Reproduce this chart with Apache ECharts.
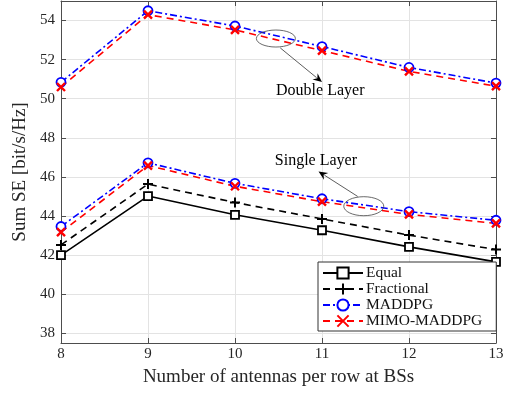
<!DOCTYPE html>
<html><head><meta charset="utf-8">
<script src="https://cdn.jsdelivr.net/npm/echarts@6/dist/echarts.min.js"></script>
<style>html,body{margin:0;padding:0;background:#fff}#c{width:508px;height:396px}</style>
</head><body><div id="c"></div>
<script>
const antennas = [8, 9, 10, 11, 12, 13];
const yTicks = [38, 40, 42, 44, 46, 48, 50, 52, 54];
// Single layer
const equalSL = [42.0, 45.02, 44.06, 43.27, 42.42, 41.65];
const fracSL = [42.52, 45.63, 44.69, 43.85, 43.02, 42.28];
const maddpgSL = [43.46, 46.72, 45.67, 44.88, 44.22, 43.78];
const mimoSL = [43.17, 46.58, 45.52, 44.73, 44.08, 43.62];
// Double layer
const maddpgDL = [50.84, 54.5, 53.72, 52.67, 51.6, 50.8];
const mimoDL = [50.6, 54.3, 53.52, 52.46, 51.4, 50.64];

const font = '"Liberation Serif", "Times New Roman", serif';
const axisCol = '#4d4d4d';
const txtCol = '#262626';
const plusPath = 'path://M5,0L5,10M0,5L10,5';
const xPath = 'path://M0,0L10,10M10,0L0,10';

function pairs(v){ return antennas.map((a,i)=>[a, v[i]]); }

const chart = echarts.init(document.getElementById('c'), null, {renderer:'canvas'});

function mk(name, data, color, symbol, size, dash, extra){
  return Object.assign({
    name, type:'line', data:pairs(data), xAxisIndex:0, yAxisIndex:0,
    symbol, symbolSize:size, showAllSymbol:true,
    lineStyle:{color, width:1.6, type:dash},
    itemStyle:{color:'#fff', borderColor:color, borderWidth:1.8},
    emphasis:{disabled:true}, animation:false, z:3
  }, extra||{});
}

const series = [
  mk('Equal', equalSL, '#000', 'rect', 8, 'solid'),
  mk('Fractional', fracSL, '#000', plusPath, 10, [7,5], {itemStyle:{color:'#000', borderColor:'#000', borderWidth:2}}),
  mk('MADDPG', maddpgSL, '#0000ff', 'circle', 9, [7,3,2,3]),
  mk('MIMO-MADDPG', mimoSL, '#ff0000', xPath, 8, [7,5], {itemStyle:{color:'#ff0000', borderColor:'#ff0000', borderWidth:2.4}}),
  mk('MADDPG', maddpgDL, '#0000ff', 'circle', 9, [7,3,2,3]),
  mk('MIMO-MADDPG', mimoDL, '#ff0000', xPath, 8, [7,5], {itemStyle:{color:'#ff0000', borderColor:'#ff0000', borderWidth:2.4}})
];

const yBase = {
  type:'value', min:37.5, max:55,
  axisLine:{show:true, lineStyle:{color:axisCol, width:1}},
  axisTick:{show:true, inside:true, length:5, lineStyle:{color:axisCol}, customValues:yTicks},
  axisLabel:{show:true, customValues:yTicks, color:txtCol, fontFamily:font, fontSize:15, margin:6},
  splitLine:{show:true, lineStyle:{color:'#e3e3e3', width:1}}
};

chart.setOption({
  animation:false,
  grid:{left:61, right:12, top:1, bottom:53, containLabel:false},
  xAxis:[
    {type:'value', min:8, max:13, interval:1, name:'Number of antennas per row at BSs', nameLocation:'middle', nameGap:25,
     nameTextStyle:{fontFamily:font, fontSize:19, color:txtCol},
     axisLine:{show:true, onZero:false, lineStyle:{color:axisCol}},
     axisTick:{show:true, inside:true, length:5, lineStyle:{color:axisCol}},
     axisLabel:{color:txtCol, fontFamily:font, fontSize:15, margin:4},
     splitLine:{show:true, lineStyle:{color:'#e3e3e3'}}},
    {type:'value', min:8, max:13, interval:1, position:'top',
     axisLine:{show:true, onZero:false, lineStyle:{color:axisCol}},
     axisTick:{show:true, inside:true, length:5, lineStyle:{color:axisCol}},
     axisLabel:{show:false}, splitLine:{show:false}}
  ],
  yAxis:[
    Object.assign({}, yBase, {name:'Sum SE [bit/s/Hz]', nameLocation:'middle', nameGap:28,
      nameTextStyle:{fontFamily:font, fontSize:19, color:txtCol}}),
    Object.assign({}, yBase, {position:'right', axisLabel:{show:false, customValues:yTicks}, splitLine:{show:false}})
  ],
  legend:{
    show:true, orient:'vertical', left:318, top:262, width:178,
    data:['Equal','Fractional','MADDPG','MIMO-MADDPG'],
    backgroundColor:'#fff', borderColor:'#333', borderWidth:1,
    padding:[3,14,2,4], itemGap:0, itemWidth:40, itemHeight:14,
    textStyle:{fontFamily:font, fontSize:15.5, color:'#111', padding:[0,0,0,-2]}
  },
  series
});

// annotations placed from data coordinates
function P(x,y){ return chart.convertToPixel({xAxisIndex:0, yAxisIndex:0},[x,y]); }
function arrow(from, to){
  const dx=to[0]-from[0], dy=to[1]-from[1], L=Math.hypot(dx,dy), ux=dx/L, uy=dy/L;
  const hl=9, hw=4;
  const bx=to[0]-ux*hl, by=to[1]-uy*hl;
  return [
    {type:'line', shape:{x1:from[0], y1:from[1], x2:bx+ux*2, y2:by+uy*2}, style:{stroke:'#333', lineWidth:0.8}, z:10},
    {type:'polygon', shape:{points:[[to[0],to[1]],[bx-uy*hw,by+ux*hw],[bx+ux*3,by+uy*3],[bx+uy*hw,by-ux*hw]]}, style:{fill:'#000'}, z:10}
  ];
}
const eD = P(10.47, 53.08), eS = P(11.48, 44.5);
const aD1 = P(10.52, 52.6), aD2 = P(11.0, 50.85);
const aS1 = P(11.41, 45.0), aS2 = P(10.96, 46.28);
const tD = P(10.98, 50.42), tS = P(10.93, 46.8);
chart.setOption({graphic:[
  {type:'ellipse', shape:{cx:eD[0], cy:eD[1], rx:19.5, ry:8.5}, style:{fill:'none', stroke:'#444', lineWidth:0.8}, z:10},
  {type:'ellipse', shape:{cx:eS[0], cy:eS[1], rx:20, ry:9.5}, style:{fill:'none', stroke:'#444', lineWidth:0.8}, z:10},
  ...arrow(aD1, aD2), ...arrow(aS1, aS2),
  {type:'text', x:tD[0], y:tD[1], style:{text:'Double Layer', fontFamily:font, fontSize:16, fill:'#000', align:'center', verticalAlign:'middle'}, z:10},
  {type:'text', x:tS[0], y:tS[1], style:{text:'Single Layer', fontFamily:font, fontSize:16, fill:'#000', align:'center', verticalAlign:'middle'}, z:10}
]});
</script></body></html>
